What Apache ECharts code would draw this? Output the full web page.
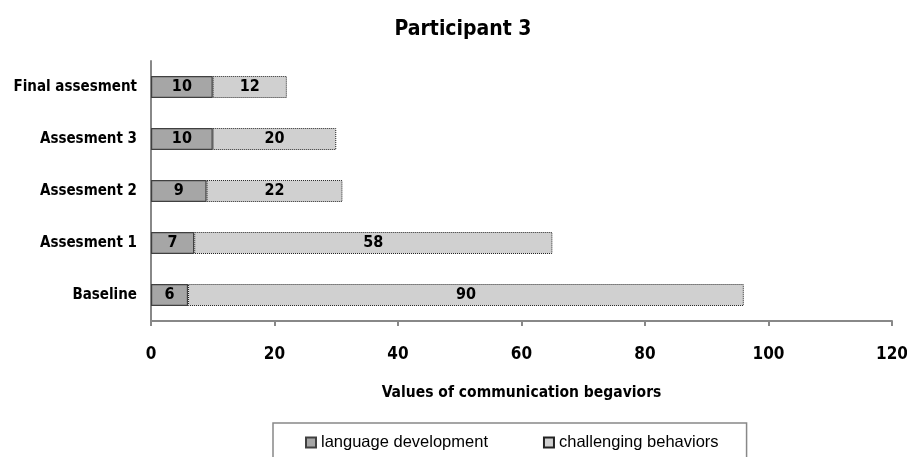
<!DOCTYPE html>
<html>
<head>
<meta charset="utf-8">
<script src="https://cdn.jsdelivr.net/npm/echarts@6/dist/echarts.min.js"></script>
<style>html,body{margin:0;padding:0;background:#fff}#c{width:907px;height:457px}</style>
</head>
<body>
<div id="c"></div>
<script>
const categories = ['Baseline', 'Assesment 1', 'Assesment 2', 'Assesment 3', 'Final assesment'];
const languageDevelopment = [6, 7, 9, 10, 10];
const challengingBehaviors = [90, 58, 22, 20, 12];
const xTicks = { min: 0, max: 120, interval: 20 };

const FONT = '"Liberation Sans Narrow", "Arial Narrow", "DejaVu Sans Condensed", sans-serif';
const LEGEND_FONT = '"Liberation Sans", Arial, sans-serif';
const chart = echarts.init(document.getElementById('c'));
chart.setOption({
  animation: false,
  backgroundColor: '#fff',
  title: {
    text: 'Participant 3', left: 458, top: 14, textAlign: 'center',
    textStyle: { fontFamily: FONT, fontSize: 21, fontWeight: 'bold', color: '#000' }
  },
  grid: { left: 151, right: 15, top: 61, bottom: 136, containLabel: false, outerBoundsMode: 'none' },
  legend: {
    top: 423, left: 273,
    padding: [11, 28, 30, 32],
    itemGap: 55, itemWidth: 10, itemHeight: 10, icon: 'rect',
    borderColor: '#888', borderWidth: 1.5,
    textStyle: { fontFamily: LEGEND_FONT, fontSize: 16.5, color: '#000' },
    data: ['language development', 'challenging behaviors']
  },
  xAxis: {
    type: 'value', min: xTicks.min, max: xTicks.max, interval: xTicks.interval,
    name: 'Values of communication begaviors', nameLocation: 'middle', nameGap: 64,
    nameTextStyle: { fontFamily: FONT, fontSize: 15.5, fontWeight: 'bold', color: '#000' },
    axisLine: { show: true, lineStyle: { color: '#888', width: 2 } },
    axisTick: { show: true, length: 5, lineStyle: { color: '#888', width: 2 } },
    axisLabel: { margin: 25, fontFamily: FONT, fontSize: 17, fontWeight: 'bold', color: '#000' },
    splitLine: { show: false }
  },
  yAxis: {
    type: 'category', data: categories,
    axisLine: { show: true, lineStyle: { color: '#888', width: 2 } },
    axisTick: { show: false },
    axisLabel: { margin: 14, fontFamily: FONT, fontSize: 15, fontWeight: 'bold', color: '#000' }
  },
  series: [
    {
      name: 'language development', type: 'bar', stack: 'a', barWidth: 22,
      data: languageDevelopment,
      itemStyle: { color: '#a6a6a6', borderColor: '#404040', borderWidth: 1.2 },
      label: { show: true, position: 'inside', fontFamily: FONT, fontSize: 16, fontWeight: 'bold', color: '#000' }
    },
    {
      name: 'challenging behaviors', type: 'bar', stack: 'a', barWidth: 22,
      data: challengingBehaviors,
      itemStyle: { color: '#d0d0d0', borderColor: '#222', borderWidth: 1, borderType: 'dotted' },
      label: { show: true, position: 'inside', fontFamily: FONT, fontSize: 16, fontWeight: 'bold', color: '#000' }
    }
  ]
});
</script>
</body>
</html>
